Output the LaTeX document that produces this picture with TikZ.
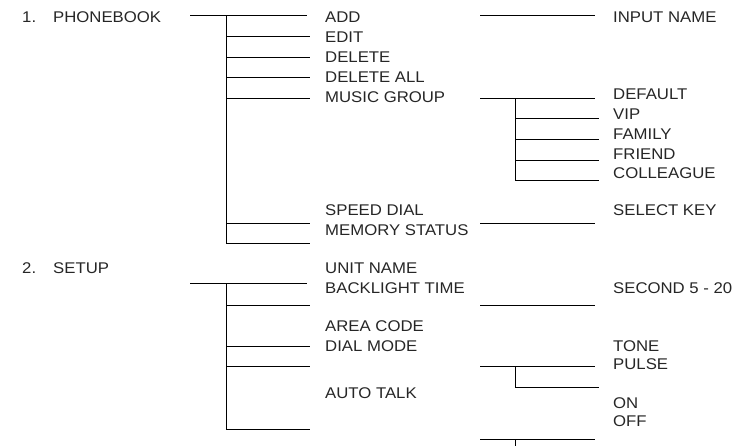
\documentclass[tikz,border=0pt]{standalone}
\usepackage{fontspec}
\setmainfont{Liberation Sans}[FakeStretch=1.08]
\usepackage{xcolor}
\usepackage{tikz}
\usetikzlibrary{positioning}
\usetikzlibrary{calc}
\definecolor{textgray}{rgb}{0.15,0.15,0.15}
\tikzset{
  lbl/.style={anchor=west, inner sep=0pt, text=textgray, font=\fontsize{15.5}{18}\selectfont},
  conn/.style={line width=1pt, black}
}

\begin{document}
\begin{tikzpicture}[x=1pt,y=1pt,yscale=-1,xscale=1]
\useasboundingbox (0,0) rectangle (743,446);

% Text Node
\node [lbl] (num1) at (22,17) {1.};
% Text Node
\node [lbl] (phonebook) at (53,17) {PHONEBOOK};
% Text Node
\node [lbl] (add) at (325,17) {ADD};
% Text Node
\node [lbl] (edit) at (325,37) {EDIT};
% Text Node
\node [lbl] (delete) at (325,57) {DELETE};
% Text Node
\node [lbl] (deleteall) at (325,77) {DELETE ALL};
% Text Node
\node [lbl] (musicgroup) at (325,97) {MUSIC GROUP};
% Text Node
\node [lbl] (speeddial) at (325,210) {SPEED DIAL};
% Text Node
\node [lbl] (memstatus) at (325,230) {MEMORY STATUS};
% Text Node
\node [lbl] (inputname) at (613,17) {INPUT NAME};
% Text Node
\node [lbl] (default) at (613,94) {DEFAULT};
% Text Node
\node [lbl] (vip) at (613,114) {VIP};
% Text Node
\node [lbl] (family) at (613,134) {FAMILY};
% Text Node
\node [lbl] (friend) at (613,154) {FRIEND};
% Text Node
\node [lbl] (colleague) at (613,173) {COLLEAGUE};
% Text Node
\node [lbl] (selectkey) at (613,210) {SELECT KEY};

% Text Node
\node [lbl] (num2) at (22,268) {2.};
% Text Node
\node [lbl] (setup) at (53,268) {SETUP};
% Text Node
\node [lbl] (unitname) at (325,268) {UNIT NAME};
% Text Node
\node [lbl] (backlight) at (325,288) {BACKLIGHT TIME};
% Text Node
\node [lbl] (areacode) at (325,326) {AREA CODE};
% Text Node
\node [lbl] (dialmode) at (325,346) {DIAL MODE};
% Text Node
\node [lbl] (autotalk) at (325,393) {AUTO TALK};
% Text Node
\node [lbl] (second) at (613,288) {SECOND 5 - 20};
% Text Node
\node [lbl] (tone) at (613,346) {TONE};
% Text Node
\node [lbl] (pulse) at (613,364) {PULSE};
% Text Node
\node [lbl] (on) at (613,403) {ON};
% Text Node
\node [lbl] (off) at (613,421) {OFF};

% Junctions, phonebook
\coordinate (pbL) at (190,16);
\coordinate (pbR) at (307,16);
\coordinate (pbT) at (226,16);
\coordinate (pbB) at (226,243);
\coordinate (pbE1) at (310,37);
\coordinate (pbE2) at (310,58);
\coordinate (pbE3) at (310,78);
\coordinate (pbE4) at (310,98.7);
\coordinate (pbE5) at (310,223);
\coordinate (pbE6) at (310,243);
\coordinate (inL) at (480,16);
\coordinate (inR) at (595,16);
\coordinate (mgL) at (480,98.7);
\coordinate (mgR) at (595,98.7);
\coordinate (mgT) at (515,98.7);
\coordinate (mgB) at (515,181);
\coordinate (mgE1) at (599,119);
\coordinate (mgE2) at (599,140);
\coordinate (mgE3) at (599,161);
\coordinate (mgE4) at (599,181);
\coordinate (skL) at (480,223);
\coordinate (skR) at (595,223);

% Junctions, setup
\coordinate (suL) at (190,283);
\coordinate (suR) at (307,283);
\coordinate (suT) at (226,283);
\coordinate (suB) at (226,429);
\coordinate (suE1) at (310,305);
\coordinate (suE2) at (310,346);
\coordinate (suE3) at (310,366);
\coordinate (suE4) at (310,429);
\coordinate (blL) at (480,305);
\coordinate (blR) at (595,305);
\coordinate (dmL) at (480,366);
\coordinate (dmR) at (595,366);
\coordinate (dmT) at (515,366);
\coordinate (dmB) at (515,387);
\coordinate (dmE) at (599,387);
\coordinate (atL) at (480,439);
\coordinate (atR) at (595,439);
\coordinate (atT) at (515,439);
\coordinate (atB) at (515,446);

%Straight Lines
\draw [conn] (pbL) -- (pbR);
\draw [conn] (pbT) -- (pbB);
\draw [conn] (pbT |- pbE1) -- (pbE1);
\draw [conn] (pbT |- pbE2) -- (pbE2);
\draw [conn] (pbT |- pbE3) -- (pbE3);
\draw [conn] (pbT |- pbE4) -- (pbE4);
\draw [conn] (pbT |- pbE5) -- (pbE5);
\draw [conn] (pbT |- pbE6) -- (pbE6);
%Straight Lines
\draw [conn] (inL) -- (inR);
\draw [conn] (mgL) -- (mgR);
\draw [conn] (mgT) -- (mgB);
\draw [conn] (mgT |- mgE1) -- (mgE1);
\draw [conn] (mgT |- mgE2) -- (mgE2);
\draw [conn] (mgT |- mgE3) -- (mgE3);
\draw [conn] (mgT |- mgE4) -- (mgE4);
\draw [conn] (skL) -- (skR);

%Straight Lines
\draw [conn] (suL) -- (suR);
\draw [conn] (suT) -- (suB);
\draw [conn] (suT |- suE1) -- (suE1);
\draw [conn] (suT |- suE2) -- (suE2);
\draw [conn] (suT |- suE3) -- (suE3);
\draw [conn] (suT |- suE4) -- (suE4);
%Straight Lines
\draw [conn] (blL) -- (blR);
\draw [conn] (dmL) -- (dmR);
\draw [conn] (dmT) -- (dmB);
\draw [conn] (dmB) -- (dmE);
\draw [conn] (atL) -- (atR);
\draw [conn] (atT) -- (atB);

\end{tikzpicture}
\end{document}
